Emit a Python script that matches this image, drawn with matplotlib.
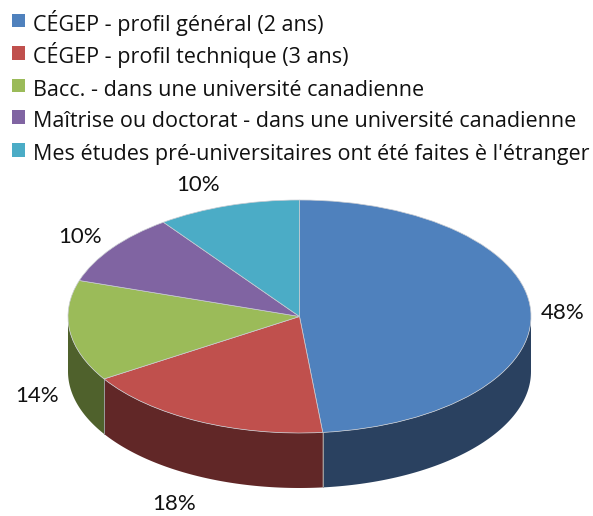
import numpy as np
import matplotlib
matplotlib.use('Agg')
import matplotlib.pyplot as plt
from matplotlib.patches import Rectangle

plt.rcParams['font.family'] = ['Lato', 'DejaVu Sans']

categories = ['CÉGEP - profil général (2 ans)',
              'CÉGEP - profil technique (3 ans)',
              'Bacc. - dans une université canadienne',
              'Maîtrise ou doctorat - dans une université canadienne',
              "Mes études pré-universitaires ont été faites è l'étranger"]
values = [48.4, 17.6, 14, 10, 10]
pct_labels = ['48%', '18%', '14%', '10%', '10%']
top_colors = ['#4f81bd', '#c0504d', '#9bbb59', '#8064a2', '#4bacc6']
side_colors = ['#2a4160', '#612727', '#4f612c', '#41325a', '#266070']
# label centres and legend rows in picture pixels
label_px = [(563, 313), (174, 504), (37, 396), (80, 237), (198, 185)]
legend_baseline = [30.5, 63, 95.5, 127, 160]

W, H = 593, 516
CX, CY, RX, RY = 299.5, 316.5, 231.5, 116.5
DEPTH = 55 / RY

def px(x, y):
    return (x - CX) / RX, (CY - y) / RY

fig = plt.figure(figsize=(W / 100, H / 100), dpi=100)
ax = fig.add_axes([0, 0, 1, 1])

# top of the pie
wedges, _ = ax.pie(values, colors=top_colors, startangle=90, counterclock=False,
                   radius=1, wedgeprops={'linewidth': 0.5, 'edgecolor': '#c9ccd2', 'zorder': 3})

# side wall, only the front half of the rim shows
edges = np.cumsum([0] + values) / sum(values) * 360
for i in range(len(values)):
    a0, a1 = max(edges[i], 90), min(edges[i + 1], 270)
    if a1 <= a0:
        continue
    t = np.radians(np.linspace(a0, a1, 80))
    x, y = np.sin(t), np.cos(t)
    ax.fill(np.r_[x, x[::-1]], np.r_[y, y[::-1] - DEPTH], color=side_colors[i],
            lw=0, zorder=1)
    for a in (a0, a1):
        if 90 < a < 270:
            r = np.radians(a)
            ax.plot([np.sin(r)] * 2, [np.cos(r), np.cos(r) - DEPTH], color='#9a9a9a',
                    lw=0.7, zorder=2)

ax.set_aspect('auto')
ax.set_xlim(-CX / RX, (W - CX) / RX)
ax.set_ylim((CY - H) / RY, CY / RY)
ax.axis('off')

for lab, (lx, ly) in zip(pct_labels, label_px):
    tx, ty = px(lx, ly)
    ax.text(tx, ty, lab, ha='center', va='center', fontsize=16, color='#111111')

# legend rows by hand so the spacing stays even
for name, col, base in zip(categories, top_colors, legend_baseline):
    fig.patches.append(Rectangle((12 / W, 1 - (base - 3.5) / H), 13 / W, 13 / H, transform=fig.transFigure,
                                 facecolor=col, edgecolor='none'))
    fig.text(33 / W, 1 - base / H, name, ha='left', va='baseline', fontsize=15.5,
             family=['Open Sans', 'DejaVu Sans'], color='#111111')

fig.savefig('out.png', dpi=100)
